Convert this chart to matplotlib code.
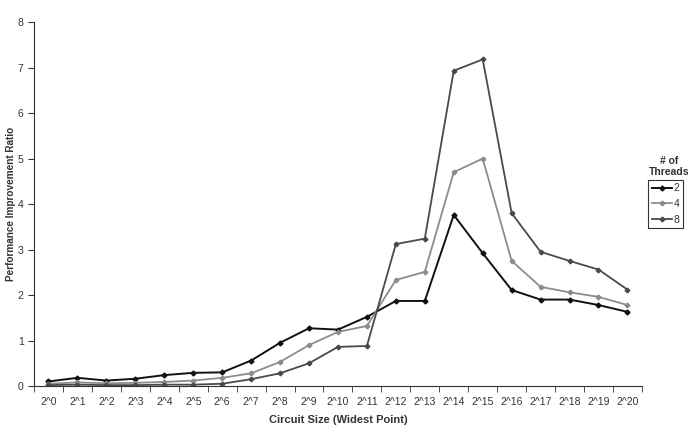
import matplotlib.pyplot as plt
import numpy as np

plt.rcParams['font.family'] = ['Liberation Sans', 'DejaVu Sans']

# circuit sizes, 2^0 .. 2^20
sizes = [f"2^{i}" for i in range(21)]

# performance improvement ratio per thread count
thr2 = [0.10, 0.18, 0.12, 0.16, 0.24, 0.29, 0.30, 0.56, 0.95, 1.27, 1.24,
        1.52, 1.87, 1.87, 3.76, 2.92, 2.11, 1.90, 1.90, 1.78, 1.63]
thr4 = [0.05, 0.08, 0.06, 0.07, 0.09, 0.12, 0.18, 0.28, 0.53, 0.90, 1.19,
        1.32, 2.33, 2.51, 4.70, 5.00, 2.75, 2.18, 2.06, 1.96, 1.78]
thr8 = [0.02, 0.03, 0.02, 0.02, 0.03, 0.03, 0.05, 0.15, 0.28, 0.50, 0.86,
        0.88, 3.12, 3.24, 6.93, 7.18, 3.80, 2.95, 2.75, 2.56, 2.12]

fig = plt.figure(figsize=(6.9, 4.33), dpi=100)
ax = fig.add_axes([0.0493, 0.1085, 0.881, 0.8405])

x = np.arange(len(sizes))
ax.plot(x, thr2, color="#111111", lw=1.4, marker="D", ms=2.5, label="2")
ax.plot(x, thr4, color="#8c8c8c", lw=1.3, marker="P", ms=3, label="4")
ax.plot(x, thr8, color="#4a4a4a", lw=1.3, marker="P", ms=3, label="8")

ax.set_xlim(-0.5, len(sizes) - 0.5)
ax.set_ylim(0, 8)
ax.set_xticks(x, sizes)
ax.set_xticks(np.arange(-0.5, len(sizes)), minor=True)
ax.tick_params(axis="x", which="major", length=0, pad=8, labelsize=7.5,
               colors="#333333")
ax.tick_params(axis="x", which="minor", length=4, direction="out",
               color="#333333")
ax.set_yticks(range(9))
ax.tick_params(axis="y", length=4, labelsize=7.5, colors="#333333")

for s in ("top", "right"):
    ax.spines[s].set_visible(False)
for s in ("left", "bottom"):
    ax.spines[s].set_color("#333333")

ax.set_xlabel("Circuit Size (Widest Point)", fontsize=8, fontweight="bold",
              color="#333333", labelpad=6)
ax.set_ylabel("Performance Improvement Ratio", fontsize=7.2, fontweight="bold",
              color="#333333")
ax.yaxis.set_label_coords(-0.03, 0.5)

fig.text(0.9695, 0.592, "# of\nThreads", ha="center", va="bottom",
         fontsize=7.5, fontweight="bold", color="#333333", linespacing=1.1)
leg = fig.legend(loc="upper left", bbox_to_anchor=(0.939, 0.585),
                 fontsize=7.5, handlelength=2.0, handletextpad=0.1,
                 borderpad=0.35, labelspacing=0.55, fancybox=False,
                 edgecolor="#333333", framealpha=1, borderaxespad=0)
leg.get_frame().set_linewidth(0.8)
for t in leg.get_texts():
    t.set_color("#333333")

fig.savefig("out.png", dpi=100)
